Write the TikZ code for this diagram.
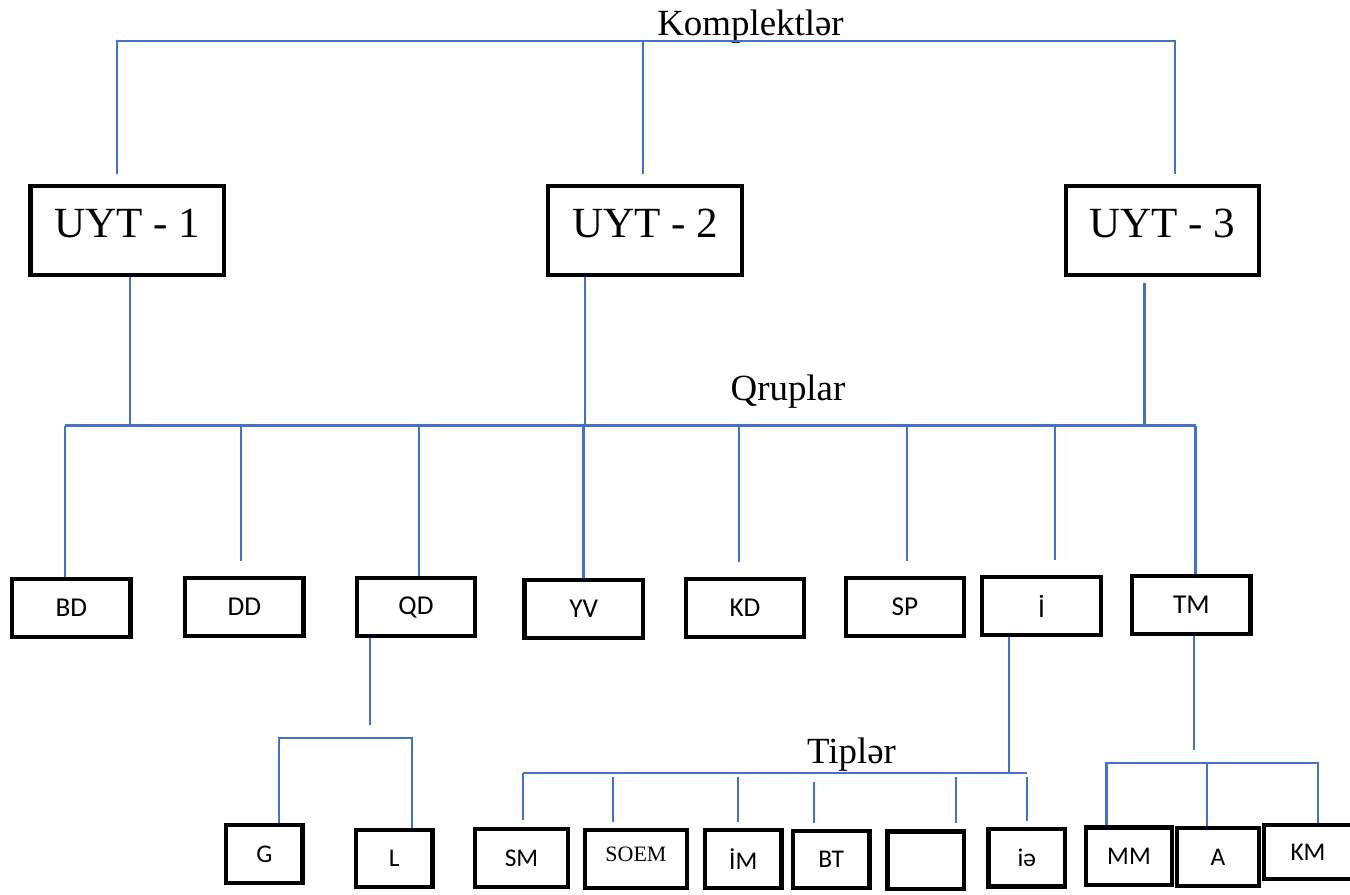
\documentclass[tikz,border=0pt]{standalone}
\usepackage{fontspec}
\setmainfont{Liberation Serif}
\newfontfamily\calibfont{Carlito}
\usepackage{tikz}
\usetikzlibrary{positioning}
\usetikzlibrary{calc}

\definecolor{lineblue}{RGB}{68,114,196}

\tikzset{
	link/.style={draw=lineblue, line width=1.2pt},
	gapdrop/.style={link, shorten <=0.08cm, shorten >=0.12cm},
	bigbox/.style={draw, line width=2.5pt, inner sep=0pt,
		minimum width=3.87cm, minimum height=1.77cm,
		font=\fontsize{24.5}{29}\selectfont, text height=0.6cm, text depth=0.32cm},
	grpbox/.style={draw, line width=2.5pt, inner sep=0pt,
		minimum width=2.37cm, minimum height=1.16cm,
		font=\calibfont\fontsize{15.5}{18}\selectfont},
	tipbox/.style={draw, line width=2.5pt, inner sep=0pt,
		minimum width=1.53cm, minimum height=1.15cm,
		font=\calibfont\fontsize{14.5}{17}\selectfont},
	levellabel/.style={font=\fontsize{21}{25}\selectfont, inner sep=0pt, anchor=base},
}

\begin{document}
\begin{tikzpicture}[x=0.02cm, y=-0.02cm]
	
	% one unit = one pixel of the original, y grows downwards
	\useasboundingbox (0,0) rectangle (1350,894);
	
	%%%%%%%%%%%%%%%%%%%%%%%%%%%%%%%%%%%%%%%%%%%%%%%%%%%%%%%%%%%%%%
	% Komplektler
	\node[levellabel] (KLabel) at (750.5,35) {Komplektlər};
	
	\node[bigbox] (UYT1) at (127.3,230.5) {UYT - 1};
	\node[bigbox] (UYT2) at (645,230.5) {UYT - 2};
	\node[bigbox] (UYT3) at (1162.5,230.5) {UYT - 3};
	
	% the drops stop short of the boxes
	\coordinate (Ktop) at (643,41);
	\coordinate (K1) at (117,174);
	\coordinate (K2) at (643,174);
	\coordinate (K3) at (1175,174);
	
	\draw[link] (K1) |- (Ktop) -| (K3);
	\draw[link] (Ktop) -- (K2);
	
	%%%%%%%%%%%%%%%%%%%%%%%%%%%%%%%%%%%%%%%%%%%%%%%%%%%%%%%%%%%%%%
	% Qruplar
	\node[levellabel] (QLabel) at (788,400) {Qruplar};
	
	\node[grpbox] (BD) at (71.4,608) {BD};
	\node[grpbox] (DD) at (244.4,607) {DD};
	\node[grpbox] (QD) at (416,607) {QD};
	\node[grpbox] (YV) at (583.7,609) {YV};
	\node[grpbox] (KD) at (745,608) {KD};
	\node[grpbox] (SP) at (905,607) {SP};
	\node[grpbox] (Ibox) at (1041.5,606) {İ};
	\node[grpbox] (TM) at (1191.4,605) {TM};
	
	\coordinate (QL) at (65,425.5);
	\coordinate (QR) at (1195.5,425.5);
	\coordinate (q1) at (130,425.5);
	\coordinate (q2) at (585,425.5);
	\coordinate (q3) at (1144.5,425.5);
	
	\draw[link] (QL) -- (QR);
	\draw[link] (UYT1.south -| q1) -- (q1);
	\draw[link] (UYT2.south -| q2) -- (q2);
	\draw[link, shorten <=0.12cm] (UYT3.south -| q3) -- (q3);
	
	\coordinate (qDD) at (241,425.5);
	\coordinate (qQD) at (418.7,425.5);
	\coordinate (qYV) at (583.5,425.5);
	\coordinate (qKD) at (739,425.5);
	\coordinate (qSP) at (907,425.5);
	\coordinate (qI) at (1055,425.5);
	
	\draw[link] (QL) -- (BD.north -| QL);
	\draw[link, shorten >=0.3cm] (qDD) -- (DD.north -| qDD);
	\draw[link] (qQD) -- (QD.north -| qQD);
	\draw[link] (qYV) -- (YV.north -| qYV);
	\draw[link, shorten >=0.3cm] (qKD) -- (KD.north -| qKD);
	\draw[link, shorten >=0.3cm] (qSP) -- (SP.north -| qSP);
	\draw[link, shorten >=0.3cm] (qI) -- (Ibox.north -| qI);
	\draw[link] (QR) -- (TM.north -| QR);
	
	%%%%%%%%%%%%%%%%%%%%%%%%%%%%%%%%%%%%%%%%%%%%%%%%%%%%%%%%%%%%%%
	% under QD
	\node[tipbox] (G) at (264.4,854) {G};
	\node[tipbox] (L) at (394.3,858.5) {L};
	
	\coordinate (GLm) at (369.6,738.3);
	\coordinate (GLl) at (279,738.3);
	\coordinate (GLr) at (411.6,738.3);
	
	\draw[link, shorten >=0.26cm] (QD.south -| GLm) -- (GLm);
	\draw[link] (G.north -| GLl) |- (GLr) -- (L.north -| GLr);
	
	%%%%%%%%%%%%%%%%%%%%%%%%%%%%%%%%%%%%%%%%%%%%%%%%%%%%%%%%%%%%%%
	% Tipler, under I
	\node[levellabel] (TLabel) at (851.5,763) {Tiplər};
	
	\node[tipbox, minimum width=1.87cm] (SM) at (521.5,858) {SM};
	\node[tipbox, minimum width=2.03cm, font=\fontsize{12.5}{15}\selectfont, text depth=0.2cm] (SOEM) at (636,859) {SOEM};
	\node[tipbox] (IM) at (743.3,859) {İM};
	\node[tipbox] (BT) at (831.3,859.5) {BT};
	\node[tipbox] (Empty) at (925.8,860.3) {};
	\node[tipbox] (Ie) at (1026.8,857.7) {iə};
	
	\coordinate (Tl) at (522.6,772.7);
	\coordinate (Tr) at (1027,772.7);
	\coordinate (Tm) at (1009.4,772.7);
	\coordinate (tSOEM) at (613,772.7);
	\coordinate (tIM) at (737.7,772.7);
	\coordinate (tBT) at (814,772.7);
	\coordinate (tEmpty) at (956,772.7);
	
	\draw[link] (Tl) -- (Tr);
	\draw[link] (Ibox.south -| Tm) -- (Tm);
	
	\draw[link, shorten >=0.14cm] (Tl) -- (SM.north -| Tl);
	\draw[gapdrop] (tSOEM) -- (SOEM.north -| tSOEM);
	\draw[gapdrop] (tIM) -- (IM.north -| tIM);
	\draw[gapdrop, shorten <=0.18cm] (tBT) -- (BT.north -| tBT);
	\draw[gapdrop] (tEmpty) -- (Empty.north -| tEmpty);
	\draw[gapdrop] (Tr) -- (Ie.north -| Tr);
	
	%%%%%%%%%%%%%%%%%%%%%%%%%%%%%%%%%%%%%%%%%%%%%%%%%%%%%%%%%%%%%%
	% under TM
	\node[tipbox, minimum width=1.73cm] (MM) at (1129,856.4) {MM};
	\node[tipbox, minimum width=1.65cm] (A) at (1218,857) {A};
	\node[tipbox, minimum width=1.76cm, minimum height=1.07cm] (KM) at (1308,852) {KM};
	
	\coordinate (Mm) at (1193.8,762.7);
	\coordinate (Ml) at (1106.5,762.7);
	\coordinate (Mr) at (1318,762.7);
	\coordinate (Ma) at (1207,762.7);
	
	\draw[link, shorten >=0.26cm] (TM.south -| Mm) -- (Mm);
	\draw[link] (MM.north -| Ml) |- (Mr) -- (KM.north -| Mr);
	\draw[link] (Ma) -- (A.north -| Ma);
	
\end{tikzpicture}
\end{document}
